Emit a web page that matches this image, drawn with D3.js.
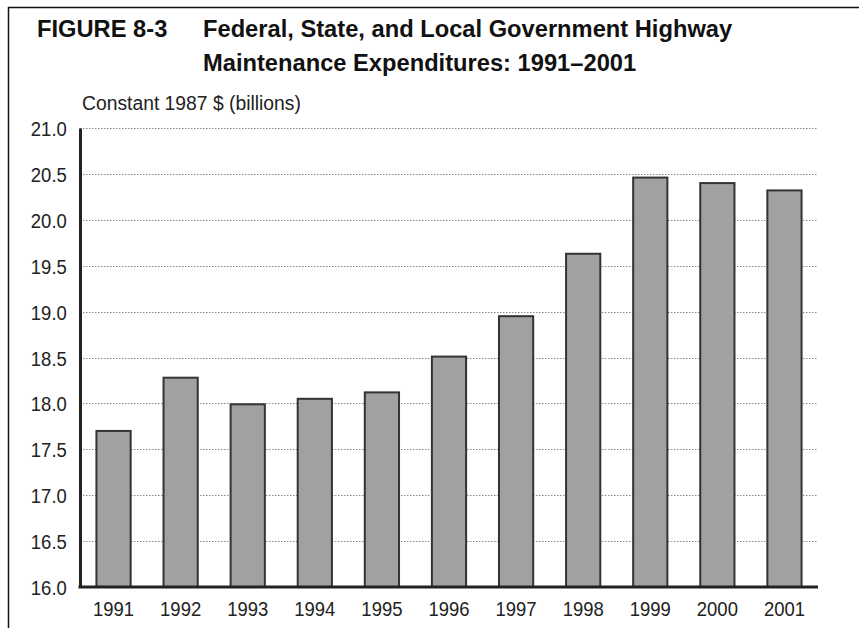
<!DOCTYPE html>
<html lang="en">
<head>
    <meta charset="UTF-8">
    <title>Highway Maintenance Expenditures</title>
    <style>
        body {
            margin: 0;
            padding: 0;
            background-color: #ffffff;
            overflow: hidden;
        }
        .title {
            font-family: 'Liberation Sans', Arial, sans-serif;
            font-weight: bold;
            font-size: 23.7px;
            fill: #111;
        }
        .narrow {
            font-family: 'Liberation Sans', Arial, sans-serif;
            font-size: 21px;
            fill: #222;
        }
        .grid line {
            stroke: #8a8a8a;
            stroke-width: 1px;
            stroke-dasharray: 1.5 1.5;
        }
        .bar {
            fill: #a0a1a3;
            stroke: #333;
            stroke-width: 2px;
        }
    </style>
</head>
<body>
    <div class="chart"></div>

    <script src="https://d3js.org/d3.v7.min.js"></script>
    <script>
        const width = 859;
        const height = 628;
        const squeeze = 0.88; // condensed look for the axis text

        const years = ['1991', '1992', '1993', '1994', '1995', '1996', '1997', '1998', '1999', '2000', '2001'];
        const spending = [17.70, 18.28, 17.99, 18.05, 18.12, 18.51, 18.95, 19.63, 20.46, 20.40, 20.32];
        const yTicks = [16.0, 16.5, 17.0, 17.5, 18.0, 18.5, 19.0, 19.5, 20.0, 20.5, 21.0];

        const margin = { top: 128, right: 41, bottom: 41, left: 80 };

        const svg = d3.select('.chart')
            .append('svg')
            .attr('width', width)
            .attr('height', height);

        // frame: left and top rules
        svg.append('path')
            .attr('d', `M8.5,${height} V7.5 H${width}`)
            .attr('fill', 'none')
            .attr('stroke', '#111')
            .attr('stroke-width', 1.5);

        svg.append('text').attr('class', 'title').attr('x', 37).attr('y', 37).text('FIGURE 8-3');
        svg.append('text').attr('class', 'title').attr('x', 203).attr('y', 37)
            .text('Federal, State, and Local Government Highway');
        svg.append('text').attr('class', 'title').attr('x', 203).attr('y', 71)
            .text('Maintenance Expenditures: 1991\u20132001');

        svg.append('text').attr('class', 'narrow')
            .attr('transform', 'translate(82,110) scale(0.92,1)')
            .text('Constant 1987 $ (billions)');

        const x = d3.scaleBand()
            .domain(years)
            .range([margin.left, width - margin.right])
            .paddingInner(0.49)
            .paddingOuter(0.245);

        const y = d3.scaleLinear()
            .domain([16, 21])
            .range([height - margin.bottom, margin.top]);

        // gridlines
        svg.append('g')
            .attr('class', 'grid')
            .selectAll('line')
            .data(yTicks.slice(1))
            .enter().append('line')
            .attr('x1', margin.left)
            .attr('x2', width - margin.right)
            .attr('y1', d => Math.round(y(d)) + 0.5)
            .attr('y2', d => Math.round(y(d)) + 0.5);

        svg.selectAll('.bar')
            .data(spending)
            .enter().append('rect')
            .attr('class', 'bar')
            .attr('x', (d, i) => x(years[i]))
            .attr('y', d => y(d))
            .attr('width', x.bandwidth())
            .attr('height', d => y(16) - y(d));

        // y axis
        const yAxis = svg.append('g')
            .attr('transform', `translate(${margin.left},0)`)
            .call(d3.axisLeft(y).tickValues(yTicks).tickFormat(d3.format('.1f')).tickSize(0).tickPadding(15));
        yAxis.select('.domain').attr('stroke', '#222').attr('stroke-width', 3);
        yAxis.selectAll('text').attr('class', 'narrow').attr('fill', null)
            .attr('dy', '0.36em')
            .attr('transform', `scale(${squeeze},1)`);

        // x axis
        const xAxis = svg.append('g')
            .attr('transform', `translate(0,${height - margin.bottom})`)
            .call(d3.axisBottom(x).tickSize(0).tickPadding(14));
        xAxis.select('.domain').attr('stroke', '#222').attr('stroke-width', 3)
            .attr('d', `M${margin.left - 1.5},0H${width - margin.right}`);
        xAxis.selectAll('text').attr('class', 'narrow').attr('fill', null)
            .attr('dy', '0.71em')
            .attr('transform', `scale(${squeeze},1)`);
    </script>
</body>
</html>
